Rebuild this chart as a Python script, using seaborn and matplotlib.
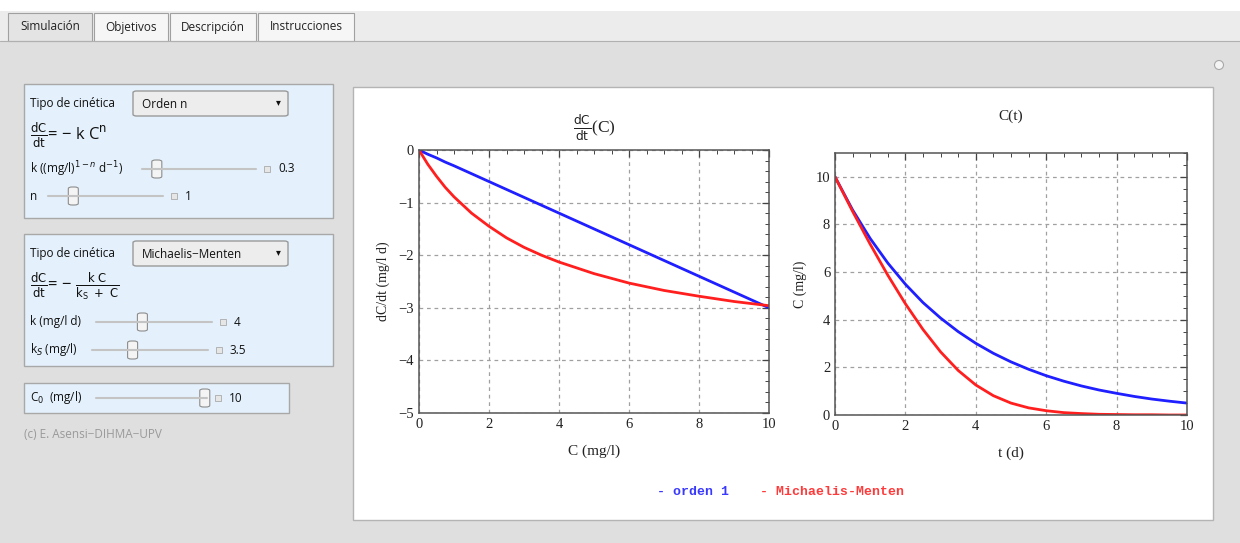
import numpy as np
import pandas as pd
import seaborn as sns
import matplotlib.pyplot as plt
from matplotlib.patches import Rectangle, FancyBboxPatch, Ellipse
from matplotlib.lines import Line2D
from matplotlib.ticker import MultipleLocator

# values
conc = [0, 0.25, 0.5, 0.75, 1, 1.5, 2, 2.5, 3, 3.5, 4, 5, 6, 7, 8, 9, 10]
rate_order1 = [0, -0.08, -0.15, -0.23, -0.3, -0.45, -0.6, -0.75, -0.9, -1.05, -1.2,
               -1.5, -1.8, -2.1, -2.4, -2.7, -3.0]
rate_mm = [0, -0.27, -0.5, -0.71, -0.89, -1.2, -1.45, -1.67, -1.85, -2.0, -2.13,
           -2.35, -2.53, -2.67, -2.78, -2.88, -2.96]

time_d = [0, 0.5, 1, 1.5, 2, 2.5, 3, 3.5, 4, 4.5, 5, 5.5, 6, 6.5, 7, 7.5, 8, 8.5, 9, 9.5, 10]
c_order1 = [10, 8.61, 7.41, 6.38, 5.49, 4.72, 4.07, 3.5, 3.01, 2.59, 2.23, 1.92, 1.65,
            1.42, 1.22, 1.05, 0.91, 0.78, 0.67, 0.58, 0.5]
c_mm = [10, 8.55, 7.17, 5.87, 4.67, 3.59, 2.65, 1.87, 1.26, 0.81, 0.5, 0.3, 0.18,
        0.1, 0.06, 0.03, 0.02, 0.01, 0.01, 0.0, 0.0]

tabs = ["Simulación", "Objetivos", "Descripción", "Instrucciones"]
series_names = ["orden 1", "Michaelis-Menten"]

W, H = 1240, 543
BLUE = "#1f1fff"
RED = "#ff1f1f"
UI_FONT = ["Open Sans", "DejaVu Sans"]

sns.set_theme(style="white")
plt.rcParams["font.family"] = ["Liberation Serif", "DejaVu Serif"]

fig = plt.figure(figsize=(W / 100, H / 100), dpi=100)
fig.patch.set_facecolor("#dfdfdf")


def px(x, y):
    return x / W, 1 - y / H


def box(x0, y0, x1, y1, fc, ec="#a8a8a8", lw=1.0, z=0, rounded=False):
    fx, fy = px(x0, y1)
    w, h = (x1 - x0) / W, (y1 - y0) / H
    if rounded:
        p = FancyBboxPatch((fx, fy), w, h, boxstyle="round,pad=0,rounding_size=0.003",
                           transform=fig.transFigure, fc=fc, ec=ec, lw=lw, zorder=z)
    else:
        p = Rectangle((fx, fy), w, h, transform=fig.transFigure, fc=fc, ec=ec, lw=lw, zorder=z)
    fig.add_artist(p)


def label(x, y, s, size=8, color="#111111", ha="left", va="center", family=UI_FONT, **kw):
    fig.text(*px(x, y), s, fontsize=size, color=color, ha=ha, va=va, family=family, **kw)


def slider(x0, x1, y, pos, value):
    fig.add_artist(Line2D([x0 / W, x1 / W], [1 - y / H] * 2, transform=fig.transFigure,
                          color="#c4c4c4", lw=1.5))
    tx = x0 + pos * (x1 - x0)
    box(tx - 5, y - 9, tx + 5, y + 9, "#f4f4f4", ec="#8c8c8c", lw=0.8, rounded=True)
    box(x1 + 8, y - 3, x1 + 14, y + 3, "#e6e6e6", ec="#aaaaaa", lw=0.6)
    label(x1 + 22, y, value, size=8.5)


# top strip and tabs
box(0, 0, W, 11, "#ffffff", ec="none")
box(0, 11, W, 41, "#ececec", ec="none")
fig.add_artist(Line2D([0, 1], [1 - 41 / H] * 2, transform=fig.transFigure, color="#b0b0b0", lw=0.8))
tab_x = [8, 94, 170, 258, 356]
for i, name in enumerate(tabs):
    box(tab_x[i], 13, tab_x[i + 1] - 2, 41, "#f6f6f6" if i else "#e4e4e4", ec="#a0a0a0", lw=0.8)
    label((tab_x[i] + tab_x[i + 1] - 2) / 2, 27, name, size=8.5, ha="center", color="#222222")
fig.add_artist(Ellipse(px(1219, 65), 9 / W, 9 / H, transform=fig.transFigure, fc="#f4f4f4",
                       ec="#a8a8a8", lw=0.8))

# control panel 1
box(24, 84, 333, 218, "#e4f1fc")
label(30, 104, "Tipo de cinética", size=8.5)
box(133, 91, 288, 116, "#ededed", ec="#9a9a9a", rounded=True)
label(142, 104, "Orden n", size=8.5)
label(276, 103, "▾", size=7)
label(30, 135, r"$\frac{\mathrm{dC}}{\mathrm{dt}}$= − k C$^{\mathrm{n}}$", size=12)
label(30, 169, r"k ((mg/l)$^{1-n}$ d$^{-1}$)", size=8.5)
slider(142, 256, 169, 0.13, "0.3")
label(30, 196, "n", size=8.5)
slider(48, 163, 196, 0.22, "1")

# control panel 2
box(24, 234, 333, 366, "#e4f1fc")
label(30, 254, "Tipo de cinética", size=8.5)
box(133, 241, 288, 266, "#ededed", ec="#9a9a9a", rounded=True)
label(142, 254, "Michaelis−Menten", size=8.5)
label(276, 253, "▾", size=7)
label(30, 286, r"$\frac{\mathrm{dC}}{\mathrm{dt}}$= − $\frac{\mathrm{k\ C}}{\mathrm{k_S\ +\ C}}$", size=12)
label(30, 322, "k (mg/l d)", size=8.5)
slider(96, 212, 322, 0.4, "4")
label(30, 350, r"k$_S$ (mg/l)", size=8.5)
slider(92, 208, 350, 0.35, "3.5")

# control panel 3
box(24, 383, 289, 413, "#e4f1fc")
label(30, 398, r"C$_0$  (mg/l)", size=8.5)
slider(96, 207, 398, 0.98, "10")
label(24, 435, "(c) E. Asensi−DIHMA−UPV", size=8.5, color="#9a9a9a")

# white output panel
box(353, 87, 1213, 520, "#ffffff", ec="#b4b4b4")

rate_df = pd.DataFrame({"C": conc * 2,
                        "rate": rate_order1 + rate_mm,
                        "serie": [series_names[0]] * len(conc) + [series_names[1]] * len(conc)})
time_df = pd.DataFrame({"t": time_d * 2,
                        "C": c_order1 + c_mm,
                        "serie": [series_names[0]] * len(time_d) + [series_names[1]] * len(time_d)})
palette = {series_names[0]: BLUE, series_names[1]: RED}


def make_axes(x0, y0, x1, y1):
    fx, fy = px(x0, y1)
    return fig.add_axes([fx, fy, (x1 - x0) / W, (y1 - y0) / H])


def style_axes(ax, ymin, ymax):
    ax.set_facecolor("white")
    ax.set_xlim(0, 10)
    ax.set_ylim(ymin, ymax)
    ax.xaxis.set_major_locator(MultipleLocator(2))
    ax.xaxis.set_minor_locator(MultipleLocator(0.5))
    ax.yaxis.set_major_locator(MultipleLocator(1 if ymax - ymin < 8 else 2))
    ax.yaxis.set_minor_locator(MultipleLocator(0.2 if ymax - ymin < 8 else 0.5))
    ax.tick_params(which="both", direction="in", top=True, right=True, colors="#444444",
                   labelcolor="#222222", labelsize=10.5)
    ax.tick_params(which="major", length=5, width=0.9)
    ax.tick_params(which="minor", length=3, width=0.7)
    ax.grid(True, which="major", linestyle=(0, (3, 3)), color="#a0a0a0", lw=0.9)
    for s in ax.spines.values():
        s.set_color("#555555")
        s.set_linewidth(1.1)
        s.set_visible(True)
    if ax.get_legend():
        ax.get_legend().remove()


ax1 = make_axes(419, 150, 769, 413)
sns.lineplot(data=rate_df, x="C", y="rate", hue="serie", palette=palette, lw=2, ax=ax1, sort=False)
style_axes(ax1, -5, 0)
ax1.set_yticks(range(-5, 1))
ax1.set_yticklabels(["−5", "−4", "−3", "−2", "−1", "0"])
ax1.set_xlabel("C (mg/l)", fontsize=11, color="#222222", labelpad=10)
ax1.set_ylabel("dC/dt (mg/l d)", fontsize=10, color="#222222", labelpad=6)
ax1.set_title(r"$\frac{\mathrm{dC}}{\mathrm{dt}}$(C)", fontsize=12.5, color="#222222", pad=12)

ax2 = make_axes(835, 153, 1187, 415)
sns.lineplot(data=time_df, x="t", y="C", hue="serie", palette=palette, lw=2, ax=ax2, sort=False)
style_axes(ax2, 0, 11)
ax2.set_yticks([0, 2, 4, 6, 8, 10])
ax2.set_xlabel("t (d)", fontsize=11, color="#222222", labelpad=10)
ax2.set_ylabel("C (mg/l)", fontsize=10, color="#222222", labelpad=6)
ax2.set_title("C(t)", fontsize=11, color="#222222", pad=24)

# legend under the plots
label(657, 492, "- " + series_names[0], size=9.5, color="#3a3aff",
      family=["Liberation Mono"], weight="bold")
label(760, 492, "- " + series_names[1], size=9.5, color="#ff3a3a",
      family=["Liberation Mono"], weight="bold")

fig.savefig("out.png", dpi=100)
